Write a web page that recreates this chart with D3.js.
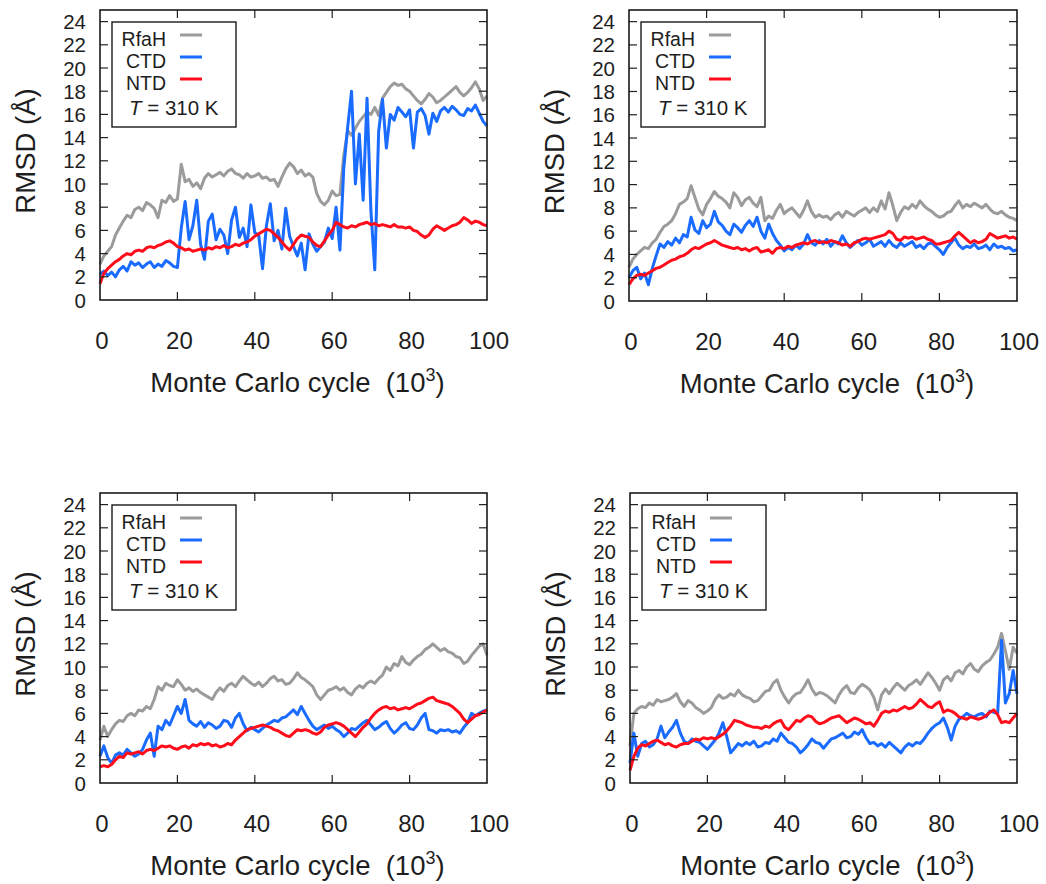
<!DOCTYPE html>
<html>
<head>
<meta charset="utf-8">
<script src="https://cdn.jsdelivr.net/npm/d3@7"></script>
<style>
  html, body { margin: 0; padding: 0; background: #fff; }
  svg { display: block; }
  text { font-family: "Liberation Sans", Arial, sans-serif; fill: #1e1e1e; }
</style>
</head>
<body>
<svg id="chart" width="1046" height="884"></svg>
<script>
// RMSD trajectories of RfaH and its two domains from four Monte Carlo runs at 310 K.
// One sample per 10^3 cycles, 0 .. 100.
const cycles = d3.range(0, 101);
const cycleTicks = [0, 20, 40, 60, 80, 100];
const rmsdTicks = [0, 2, 4, 6, 8, 10, 12, 14, 16, 18, 20, 22, 24];
const seriesNames = ["RfaH", "CTD", "NTD"];
const seriesColors = ["#9b9b9b", "#1a6bff", "#ff0d1a"];
const xTitle = "Monte Carlo cycle";
const yTitle = "RMSD (Å)";
const tempLabel = "310 K";

// Run 1
const rfahRun1 = [3.1,3.8,4.2,4.6,5.6,6.2,6.8,7.3,7.1,7.8,
  8.0,7.7,8.4,8.2,7.9,7.1,8.6,8.4,9.0,8.5,
  8.7,11.7,10.2,10.4,9.8,10.1,9.6,10.5,10.9,10.6,
  10.8,11.0,10.7,11.1,11.3,10.9,10.8,10.5,10.9,10.6,
  10.7,10.9,10.5,10.6,10.3,10.4,9.8,10.6,11.3,11.8,
  11.5,10.9,11.2,10.7,10.9,10.6,9.2,8.5,8.2,8.6,
  9.4,9.0,9.1,12.5,14.6,14.2,14.8,15.4,15.8,16.2,
  16.0,16.6,15.9,17.4,17.9,18.4,18.7,18.5,18.6,18.2,
  18.0,17.6,17.2,16.9,17.3,17.8,17.5,17.0,17.2,17.5,
  17.8,18.1,18.4,17.9,17.6,17.9,18.3,18.8,18.2,17.2,17.6];
const ctdRun1 = [2.2,2.5,2.1,2.4,2.0,2.6,2.9,2.5,3.3,3.0,
  3.2,2.8,3.1,3.3,2.8,3.1,2.9,3.4,3.2,2.9,
  2.8,6.2,8.5,5.2,6.4,8.6,4.8,3.5,6.8,7.4,
  5.2,6.1,5.6,4.0,6.9,8.0,5.4,6.2,4.6,8.2,
  5.8,5.6,2.7,6.4,8.3,5.1,6.0,4.4,7.9,5.5,
  4.6,3.8,4.9,2.6,5.7,4.8,4.2,4.6,5.0,6.2,
  5.3,8.0,4.3,11.4,14.9,18.0,10.0,14.3,8.6,17.4,
  7.7,2.6,14.5,17.3,13.1,16.0,15.5,16.6,16.2,15.8,
  16.4,13.1,16.2,16.5,15.9,14.3,16.1,15.4,16.3,16.6,
  16.2,16.7,16.4,16.0,15.9,16.5,16.3,16.8,16.1,15.4,15.0];
const ntdRun1 = [1.4,2.3,2.7,3.0,3.3,3.5,3.8,4.0,3.9,4.2,
  4.3,4.2,4.5,4.6,4.5,4.7,4.8,5.0,5.1,4.9,
  4.6,4.5,4.3,4.4,4.2,4.3,4.4,4.3,4.5,4.4,
  4.6,4.5,4.7,4.5,4.6,4.8,4.7,4.9,5.0,5.2,
  5.5,5.7,5.9,6.1,6.0,5.7,5.4,5.0,4.6,4.3,
  4.8,5.3,5.6,5.5,5.4,5.0,4.7,4.6,5.1,5.6,
  6.0,6.7,6.5,6.3,6.2,6.4,6.3,6.5,6.6,6.7,
  6.5,6.6,6.4,6.5,6.4,6.3,6.5,6.3,6.3,6.2,
  6.3,6.0,5.9,5.6,5.4,5.6,6.1,6.4,6.2,6.0,
  6.2,6.4,6.5,6.7,7.1,6.9,6.6,6.8,6.7,6.5,6.4];

// Run 2
const rfahRun2 = [2.9,3.6,4.0,4.3,4.6,4.5,5.0,5.3,5.9,6.4,
  6.6,6.9,7.5,8.3,8.5,8.8,9.9,8.9,7.9,7.4,
  8.3,8.8,9.4,9.0,8.8,8.5,8.0,9.3,8.9,8.2,
  8.7,8.9,8.4,8.1,8.9,6.9,7.3,7.1,7.8,8.3,
  7.5,7.8,8.0,7.6,7.2,7.8,8.6,7.7,7.2,7.4,
  7.2,7.3,7.0,7.4,7.6,7.2,7.7,7.5,7.3,7.6,
  7.8,8.0,7.6,8.0,7.7,8.6,7.9,9.3,8.2,6.9,
  7.6,8.1,7.9,8.3,8.0,8.6,8.2,7.9,7.7,7.4,
  7.2,7.3,7.6,7.7,8.2,8.6,8.0,8.3,8.1,8.4,
  8.2,8.0,8.3,7.9,7.6,7.5,7.7,7.4,7.2,7.1,6.9];
const ctdRun2 = [2.0,2.6,2.9,1.9,2.4,1.4,2.8,3.9,4.9,4.6,
  5.1,4.8,5.4,5.0,5.7,5.5,7.2,6.1,5.8,6.9,
  6.3,6.6,7.7,6.8,6.5,6.0,5.7,6.6,6.3,5.9,
  6.5,6.9,6.4,7.2,6.0,5.4,6.6,5.8,5.2,4.8,
  4.3,4.6,4.4,4.8,4.5,4.9,5.7,5.0,4.8,5.2,
  4.9,5.3,4.7,5.1,4.9,5.6,5.0,4.6,4.9,5.2,
  4.8,5.0,5.3,4.7,4.9,5.1,4.7,5.2,4.8,4.6,
  5.0,4.7,4.9,5.1,4.6,4.8,4.5,4.9,5.0,4.7,
  4.4,4.0,4.6,5.0,5.4,4.8,4.5,4.7,4.6,4.9,
  4.5,4.6,4.8,4.4,4.9,4.6,4.7,4.5,4.6,4.3,4.4];
const ntdRun2 = [1.4,1.9,2.2,2.3,2.2,2.4,2.6,2.8,2.9,3.1,
  3.3,3.5,3.6,3.8,3.9,4.1,4.4,4.6,4.5,4.7,
  4.9,5.0,5.2,5.0,4.8,4.7,4.6,4.5,4.6,4.4,
  4.5,4.3,4.5,4.6,4.2,4.3,4.4,4.1,4.5,4.6,
  4.5,4.7,4.6,4.8,4.9,5.0,4.9,5.1,5.2,5.0,
  5.1,5.0,5.2,5.1,5.0,4.8,4.9,4.7,5.0,5.1,
  5.3,5.4,5.3,5.4,5.5,5.6,5.7,6.0,5.8,5.3,
  5.2,5.5,5.4,5.5,5.3,5.4,5.5,5.3,5.2,4.9,
  4.9,5.0,5.1,5.2,5.6,5.9,5.6,5.3,5.0,5.2,
  5.0,5.1,5.3,5.8,5.6,5.4,5.5,5.6,5.4,5.5,5.3];

// Run 3
const rfahRun3 = [3.7,4.9,4.0,4.6,5.1,5.4,5.3,5.8,6.0,5.8,
  6.3,6.2,6.6,6.4,7.2,8.3,8.0,8.6,8.4,8.3,
  8.9,8.5,8.0,8.2,7.9,8.1,7.8,7.6,7.4,7.2,
  7.8,8.2,7.9,8.4,8.6,8.3,8.8,9.2,8.9,8.6,
  8.4,8.7,8.3,8.6,9.0,9.2,8.8,8.9,8.5,8.6,
  9.0,9.5,9.1,8.9,8.6,8.3,7.6,7.2,7.6,8.0,
  8.1,8.3,8.0,8.2,7.8,7.6,8.1,8.4,8.2,8.6,
  8.8,8.6,9.0,9.3,10.0,9.7,10.3,10.1,10.9,10.4,
  10.2,10.6,10.9,11.1,11.5,11.7,12.0,11.7,11.4,11.6,
  11.3,11.2,10.9,10.8,10.3,10.5,11.0,11.4,11.8,12.0,11.0];
const ctdRun3 = [2.3,3.2,2.2,1.7,2.4,2.6,2.4,2.9,2.6,2.3,
  2.5,2.9,3.7,4.3,2.3,4.9,4.6,5.4,5.0,5.8,
  6.6,6.0,7.2,5.4,5.1,4.9,5.3,4.8,5.2,5.0,
  4.7,4.9,5.4,5.3,4.8,5.6,6.0,5.1,4.5,4.8,
  4.6,4.4,4.7,5.0,5.2,5.4,5.3,5.6,5.7,6.0,
  6.3,5.9,6.6,6.0,5.4,4.9,4.6,4.8,5.0,4.7,
  4.9,4.6,4.4,4.0,4.3,4.7,4.6,4.9,5.2,5.4,
  5.0,4.6,4.8,5.1,5.3,4.7,4.3,4.6,5.0,5.2,
  4.7,4.6,5.0,5.6,6.0,4.6,4.5,4.3,4.6,4.5,
  4.6,4.4,4.5,4.3,4.8,5.2,6.0,5.8,6.0,6.2,6.3];
const ntdRun3 = [1.4,1.5,1.4,1.6,2.0,2.3,2.2,2.6,2.5,2.6,
  2.7,2.5,2.8,2.9,2.8,3.0,3.2,3.1,3.2,3.0,
  2.9,3.1,3.2,3.0,3.3,3.2,3.4,3.3,3.4,3.2,
  3.3,3.1,3.2,3.4,3.3,3.7,4.0,4.3,4.6,4.7,
  4.8,4.9,5.0,4.9,4.8,4.6,4.5,4.3,4.1,4.0,
  4.3,4.6,4.5,4.6,4.5,4.3,4.2,4.4,4.8,5.0,
  5.1,5.2,5.1,4.9,4.6,4.3,4.0,4.4,4.8,5.1,
  5.6,6.0,6.3,6.5,6.6,6.4,6.5,6.3,6.4,6.5,
  6.4,6.6,6.8,6.9,7.1,7.3,7.4,7.1,7.0,6.9,
  6.8,6.6,6.3,6.0,5.5,5.2,5.5,5.8,5.9,6.1,6.3];

// Run 4
const rfahRun4 = [3.2,6.0,6.4,6.6,6.5,6.9,6.7,7.2,7.0,7.1,
  7.2,7.4,7.7,7.0,6.6,7.1,6.9,6.5,6.3,6.0,
  6.2,6.5,7.2,7.6,7.3,7.4,7.7,7.5,8.0,7.6,
  7.4,7.3,7.0,7.1,7.5,7.9,8.0,8.6,8.9,8.0,
  7.4,6.9,7.4,7.7,7.8,8.3,8.9,8.1,7.6,7.8,
  7.7,7.5,7.2,6.9,7.6,8.1,8.4,7.8,7.7,8.2,
  8.5,8.3,8.0,7.4,6.3,7.6,8.1,7.7,8.2,8.6,
  8.3,8.0,8.4,8.6,8.9,8.5,9.0,9.5,9.1,8.6,
  8.0,8.9,9.2,8.8,9.5,9.7,9.4,10.0,10.3,9.8,
  9.6,10.1,10.4,10.6,11.1,11.7,12.9,11.4,9.8,11.7,11.2];
const ctdRun4 = [1.7,4.3,2.3,3.4,3.6,3.1,3.3,3.8,4.9,3.9,
  4.4,4.8,5.4,4.3,3.6,3.4,3.8,3.6,3.5,3.2,
  2.9,3.3,3.7,4.3,5.2,4.0,2.6,3.0,3.4,3.2,
  3.5,3.3,3.6,3.1,3.2,3.5,3.4,3.8,3.6,4.3,
  3.9,3.5,3.4,3.1,2.6,2.9,3.3,3.8,3.5,3.4,
  3.0,3.4,3.8,3.9,4.1,4.3,3.9,4.0,4.4,4.2,
  4.6,3.9,3.4,3.5,3.2,3.4,3.1,3.5,3.2,2.9,
  2.6,3.1,3.4,3.2,3.5,3.4,3.8,4.3,4.7,5.0,
  5.2,5.6,4.8,3.7,4.9,5.5,5.7,6.0,5.8,5.7,
  5.9,6.0,5.7,6.2,6.1,6.0,12.3,6.9,7.7,9.7,7.7];
const ntdRun4 = [1.1,2.3,3.0,3.3,3.2,3.4,3.6,3.7,3.5,3.3,
  3.4,3.2,3.1,3.3,3.4,3.4,3.6,3.8,3.7,3.9,
  3.8,3.9,3.8,4.0,4.2,4.5,4.9,5.4,5.3,5.2,
  5.0,4.9,4.8,4.8,4.7,4.9,4.8,5.1,5.3,5.4,
  4.8,4.6,5.0,5.4,5.3,5.6,5.8,5.7,5.3,5.1,
  5.2,5.4,5.6,5.7,5.8,5.5,5.2,5.4,5.6,5.5,
  5.3,5.1,5.2,4.9,5.4,6.0,6.2,6.1,6.3,6.2,
  6.4,6.6,6.4,6.5,6.8,7.2,6.9,6.6,6.5,6.8,
  7.0,6.1,6.3,6.2,6.0,5.7,5.6,5.5,5.7,5.6,
  5.5,5.6,5.8,6.1,6.3,5.9,5.2,5.3,5.2,5.6,6.0];

// Frame of each panel in page pixels
const panels = [
  { left: 100, top: 10,  right: 487,  bottom: 300, runs: [rfahRun1, ctdRun1, ntdRun1] },
  { left: 629, top: 10,  right: 1017, bottom: 301, runs: [rfahRun2, ctdRun2, ntdRun2] },
  { left: 100, top: 493, right: 487,  bottom: 783, runs: [rfahRun3, ctdRun3, ntdRun3] },
  { left: 630, top: 493, right: 1017, bottom: 783, runs: [rfahRun4, ctdRun4, ntdRun4] }
];

const svg = d3.select("#chart");
const tickLen = 8;

panels.forEach(p => {
  const x = d3.scaleLinear().domain([0, 100]).range([p.left, p.right]);
  const y = d3.scaleLinear().domain([0, 25]).range([p.bottom, p.top]);
  const g = svg.append("g");

  // series, gray underneath, then blue, red on top
  const line = d3.line().x((d, i) => x(cycles[i])).y(d => y(d));
  p.runs.forEach((vals, k) => {
    g.append("path")
      .datum(vals)
      .attr("d", line)
      .attr("fill", "none")
      .attr("stroke", seriesColors[k])
      .attr("stroke-width", 3)
      .attr("stroke-linejoin", "round");
  });

  // inward ticks on all four sides
  const ticks = g.append("g").attr("stroke", "#222").attr("stroke-width", 1.2);
  rmsdTicks.forEach(v => {
    if (v === 0) return;
    ticks.append("line").attr("x1", p.left).attr("x2", p.left + tickLen).attr("y1", y(v)).attr("y2", y(v));
    ticks.append("line").attr("x1", p.right).attr("x2", p.right - tickLen).attr("y1", y(v)).attr("y2", y(v));
  });
  cycleTicks.forEach(v => {
    if (v === 0 || v === 100) return;
    ticks.append("line").attr("x1", x(v)).attr("x2", x(v)).attr("y1", p.bottom).attr("y2", p.bottom - tickLen);
    ticks.append("line").attr("x1", x(v)).attr("x2", x(v)).attr("y1", p.top).attr("y2", p.top + tickLen);
  });

  // frame
  g.append("rect")
    .attr("x", p.left).attr("y", p.top)
    .attr("width", p.right - p.left).attr("height", p.bottom - p.top)
    .attr("fill", "none").attr("stroke", "#1a1a1a").attr("stroke-width", 1.6);

  // tick labels
  g.append("g").selectAll("text").data(rmsdTicks).join("text")
    .attr("x", p.left - 14).attr("y", d => y(d) + 7.5)
    .attr("text-anchor", "end").attr("font-size", 20.5)
    .text(d => d);
  g.append("g").selectAll("text").data(cycleTicks).join("text")
    .attr("x", d => x(d) + 2).attr("y", p.bottom + 49)
    .attr("text-anchor", "middle").attr("font-size", 24)
    .text(d => d);

  // axis titles
  const xt = g.append("text")
    .attr("x", (p.left + p.right) / 2 + 4).attr("y", p.bottom + 92)
    .attr("text-anchor", "middle").attr("font-size", 27.5);
  xt.append("tspan").text(xTitle + "\u00a0\u00a0(10");
  xt.append("tspan").attr("font-size", 18).attr("dy", -11).text("3");
  xt.append("tspan").attr("dy", 11).text(")");

  const cy = (p.top + p.bottom) / 2 - 4;
  g.append("text")
    .attr("transform", `translate(${p.left - 65},${cy}) rotate(-90)`)
    .attr("text-anchor", "middle").attr("font-size", 27.5)
    .text(yTitle);

  // legend box
  const lg = g.append("g").attr("transform", `translate(${p.left + 12},${p.top + 12})`);
  lg.append("rect").attr("width", 124).attr("height", 105)
    .attr("fill", "#fff").attr("stroke", "#1a1a1a").attr("stroke-width", 1.4);
  seriesNames.forEach((name, k) => {
    lg.append("text").attr("x", 54).attr("y", 24 + k * 22)
      .attr("text-anchor", "end").attr("font-size", 19.5).text(name);
    lg.append("line").attr("x1", 68).attr("x2", 90)
      .attr("y1", 13 + k * 22).attr("y2", 13 + k * 22)
      .attr("stroke", seriesColors[k]).attr("stroke-width", 3);
  });
  const tl = lg.append("text").attr("x", 17).attr("y", 93).attr("font-size", 20.5);
  tl.append("tspan").attr("font-style", "italic").text("T");
  tl.append("tspan").text(" = " + tempLabel);
});
</script>
</body>
</html>
